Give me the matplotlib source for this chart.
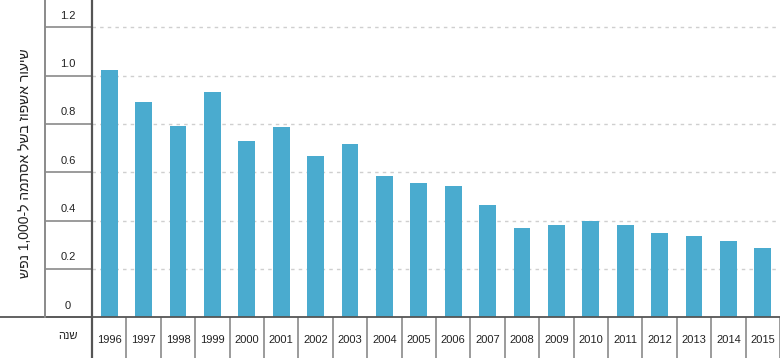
import matplotlib
matplotlib.use("Agg")
import matplotlib.pyplot as plt
from matplotlib.lines import Line2D
from matplotlib.transforms import blended_transform_factory

plt.rcParams['font.family'] = ['Liberation Sans', 'DejaVu Sans']

years = [str(y) for y in range(1996, 2016)]
rates = [1.024, 0.890, 0.790, 0.934, 0.728, 0.788, 0.666, 0.719, 0.584, 0.556,
         0.542, 0.465, 0.369, 0.380, 0.397, 0.380, 0.347, 0.337, 0.316, 0.285]
yticks = [0, 0.2, 0.4, 0.6, 0.8, 1.0, 1.2]
ytick_labels = ["0", "0.2", "0.4", "0.6", "0.8", "1.0", "1.2"]
# Hebrew in visual (left-to-right) order, since matplotlib has no bidi
ylabel_text = "שפנ 1,000-ל המתסא לשב זופשא רועיש"   # שיעור אשפוז בשל אסתמה ל-1,000 נפש
xlabel_text = "הנש"  # שנה

W, H = 780, 358
x0, base = 92, 317.3     # axis x pixel, baseline pixel
fig = plt.figure(figsize=(W / 100, H / 100), dpi=100)
ax = fig.add_axes([x0 / W, (H - base) / H, (W - x0) / W, base / H])

bar_color = "#4aabcf"
dark = "#555555"
mid = "#8a8a8a"

x = list(range(len(years)))
ax.bar(x, rates, width=0.485, color=bar_color, zorder=3)
ax.set_xlim(-0.5, len(years) - 0.5)
ax.set_ylim(0, base / 241.7)

for s in ax.spines.values():
    s.set_visible(False)

# dotted gridlines
for v in yticks[1:]:
    ax.axhline(v, color="#cfcfcf", lw=1, ls=(0, (2.5, 3)), zorder=1)

# y ticks: segments between the two left rules
px2pt = 72 / 100
ax.set_yticks(yticks)
ax.tick_params(axis="y", length=47 * px2pt, width=1.2, color=mid, labelleft=False)
tr = blended_transform_factory(fig.transFigure, ax.transData)
for v, lab in zip(yticks, ytick_labels):
    ax.text(68 / W, v + 11.5 / 241.7, lab, transform=tr, ha="center", va="center",
            fontsize=8, color="#222222")

# x ticks: year labels with separators at category boundaries
ax.set_xticks(x)
ax.set_xticklabels(years, fontsize=8, color="#222222")
ax.tick_params(axis="x", length=0, pad=13)
ax.set_xticks([i - 0.5 for i in range(len(years) + 1)], minor=True)
ax.tick_params(axis="x", which="minor", length=41 * px2pt, width=1.2, color=mid)

# frame rules
fig.add_artist(Line2D([0, 1], [(H - base) / H] * 2, transform=fig.transFigure,
                      color=dark, lw=1.3))
fig.add_artist(Line2D([x0 / W] * 2, [0, 1], transform=fig.transFigure,
                      color=dark, lw=1.6))
fig.add_artist(Line2D([45 / W] * 2, [(H - base) / H, 1], transform=fig.transFigure,
                      color=mid, lw=1.4))

fig.text(25 / W, (H - 163) / H, ylabel_text, rotation=90, ha="center", va="center",
         fontsize=10, color="#222222")
fig.text(68 / W, (H - 336) / H, xlabel_text, ha="center", va="center",
         fontsize=8, color="#222222")

fig.savefig("out.png", dpi=100)
